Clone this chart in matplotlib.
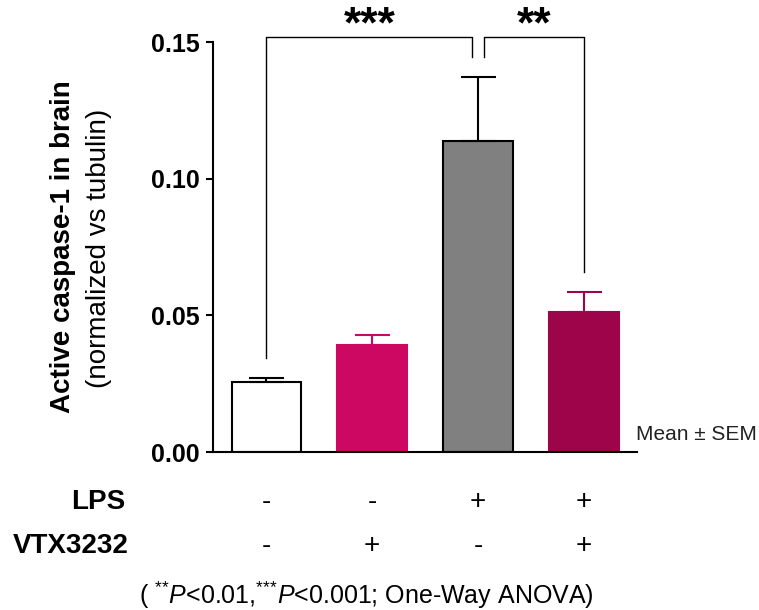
import matplotlib
matplotlib.use('Agg')
from matplotlib import pyplot as plt

plt.rcParams['font.family'] = ['Liberation Sans', 'DejaVu Sans']
plt.rcParams['mathtext.fontset'] = 'custom'
plt.rcParams['mathtext.rm'] = 'Liberation Sans'
plt.rcParams['mathtext.it'] = 'Liberation Sans:italic'
plt.rcParams['mathtext.bf'] = 'Liberation Sans:bold'

# data
groups = ['Vehicle', 'VTX3232', 'LPS', 'LPS + VTX3232']
means = [0.0256, 0.0392, 0.1138, 0.0514]
sems = [0.0016, 0.0037, 0.0234, 0.0071]
lps = ['-', '-', '+', '+']
vtx = ['-', '+', '-', '+']
yticks = [0.00, 0.05, 0.10, 0.15]

fill = ['white', '#cd0862', 'grey', '#9e044a']
edge = ['black', '#cd0862', 'black', '#9e044a']
errc = ['black', '#cd0862', 'black', '#9e044a']

fig = plt.figure(figsize=(7.59, 6.10), dpi=100)
ax = fig.add_axes([213 / 759, 1 - 452 / 610, (637 - 213) / 759, (452 - 42) / 610])

x = list(range(len(groups)))
for i in x:
    ax.bar(i, means[i], width=0.66, color=fill[i], edgecolor=edge[i], linewidth=1.5, zorder=2)
    ax.errorbar(i, means[i], yerr=[[0], [sems[i]]], fmt='none', ecolor=errc[i],
                elinewidth=1.5, capsize=12.6, capthick=1.5, zorder=3)

ax.set_xlim(-0.506, 3.505)
ax.set_ylim(0, 0.15)
ax.set_yticks(yticks)
ax.set_yticklabels(['%.2f' % t for t in yticks], fontsize=18, fontweight='bold')
ax.set_xticks([])
ax.spines['top'].set_visible(False)
ax.spines['right'].set_visible(False)
ax.spines['left'].set_linewidth(1.5)
ax.spines['bottom'].set_linewidth(1.5)
ax.tick_params(axis='y', length=5, width=1.5, pad=4.5)

# significance brackets
top, inner = 0.1518, 0.1445
gap = 0.056
ax.plot([0, 0, 2 - gap, 2 - gap], [0.0344, top, top, inner], color='black', lw=1, clip_on=False)
ax.plot([2 + gap, 2 + gap, 3, 3], [inner, top, top, 0.0659], color='black', lw=1, clip_on=False)
ax.text((0 + 2 - gap) / 2, 0.1516, '***', ha='center', va='baseline', fontsize=32,
        fontweight='bold', clip_on=False)
ax.text((2 + gap + 3) / 2, 0.1516, '**', ha='center', va='baseline', fontsize=32,
        fontweight='bold', clip_on=False)

fig.text(757 / 759, 1 - 440 / 610, 'Mean ± SEM', fontsize=15, color='#222222',
         ha='right', va='baseline')

# treatment table
tr = ax.get_xaxis_transform()
for i in x:
    ax.text(i, -0.139, lps[i], transform=tr, ha='center', va='baseline', fontsize=20, clip_on=False)
    ax.text(i, -0.246, vtx[i], transform=tr, ha='center', va='baseline', fontsize=20, clip_on=False)
fig.text(125 / 759, 1 - 509 / 610, 'LPS', ha='right', va='baseline', fontsize=20, fontweight='bold')
fig.text(129 / 759, 1 - 553 / 610, 'VTX3232', ha='right', va='baseline', fontsize=20, fontweight='bold')

fig.text(366 / 759, 1 - 604 / 610,
         r'( $^{{*}{*}}\mathit{P}$<0.01,$^{{*}{*}{*}}\mathit{P}$<0.001; One-Way ANOVA)',
         ha='center', va='baseline', fontsize=18)

fig.text(63 / 759, 1 - 247 / 610, 'Active caspase-1 in brain', rotation=90, ha='center', va='center',
         fontsize=20, fontweight='bold')
fig.text(99 / 759, 1 - 248 / 610, '(normalized vs tubulin)', rotation=90, ha='center', va='center',
         fontsize=20)

plt.savefig('out.png', dpi=100)
